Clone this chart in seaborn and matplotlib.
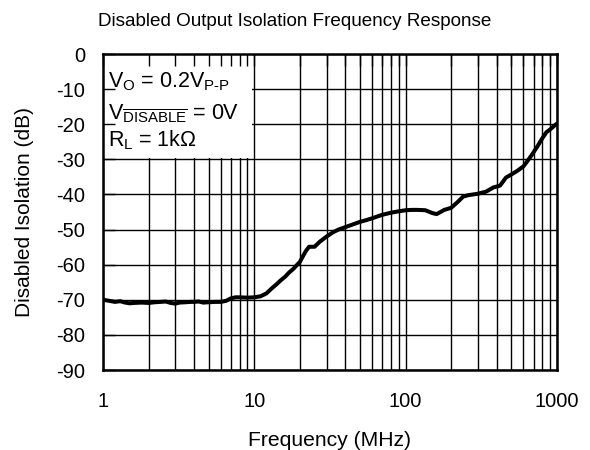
import numpy as np
import pandas as pd
import seaborn as sns
import matplotlib
matplotlib.use("Agg")
import matplotlib.pyplot as plt
from matplotlib.patches import Rectangle

freq_mhz = [1.0, 1.1, 1.2, 1.3, 1.4, 1.5, 1.6, 1.8, 2.0, 2.2, 2.4, 2.6, 2.8, 3.0,
            3.2, 3.5, 3.8, 4.0, 4.3, 4.6, 5.0, 5.5, 6.0, 6.5, 7.0, 7.5, 8.0, 9.0,
            10, 11, 12, 13, 14, 15, 16, 17, 18, 20, 21, 22, 23, 25, 27, 30, 33, 36,
            40, 45, 50, 55, 60, 70, 80, 90, 100, 110, 120, 135, 150, 160, 170, 180,
            200, 220, 240, 260, 300, 340, 380, 420, 460, 500, 550, 600, 650, 700,
            750, 800, 850, 900, 950, 1000]
isolation_db = [-70.0, -70.3, -70.6, -70.4, -70.8, -71.0, -70.9, -70.8, -70.9, -70.7,
                -70.6, -70.5, -70.9, -71.1, -70.8, -70.7, -70.6, -70.6, -70.5, -70.8,
                -70.7, -70.6, -70.6, -70.3, -69.6, -69.3, -69.3, -69.4, -69.3, -69.0,
                -68.2, -66.8, -65.6, -64.4, -63.4, -62.2, -61.3, -59.2, -57.5, -56.0,
                -54.9, -54.9, -53.5, -52.0, -50.8, -50.0, -49.3, -48.5, -47.8, -47.3,
                -46.8, -45.8, -45.2, -44.8, -44.5, -44.4, -44.4, -44.5, -45.3, -45.6,
                -45.0, -44.4, -43.8, -42.2, -40.6, -40.2, -39.8, -39.2, -38.0, -37.5,
                -35.2, -34.3, -33.2, -32.0, -30.0, -28.0, -26.0, -24.0, -22.3, -21.5,
                -20.6, -19.8]

x_ticks = [1, 10, 100, 1000]
x_tick_labels = ["1", "10", "100", "1000"]
y_ticks = list(range(-90, 1, 10))
y_tick_labels = [str(v) for v in y_ticks]
x_minor = [m * d for d in (1, 10, 100) for m in range(2, 10)]

title = "Disabled Output Isolation Frequency Response"
xlabel = "Frequency (MHz)"
ylabel = "Disabled Isolation (dB)"
notes = [r"$V_{\mathrm{O}}$ = 0.2$V_{\mathrm{P‐P}}$",
         r"$V_{\overline{\mathrm{DISABLE}}}$ = 0V",
         r"$R_{\mathrm{L}}$ = 1k$\Omega$"]

sns.set_theme(style="white")
plt.rcParams["font.family"] = ["Liberation Sans", "DejaVu Sans"]
plt.rcParams["mathtext.fontset"] = "custom"
plt.rcParams["mathtext.rm"] = "Liberation Sans"
plt.rcParams["mathtext.it"] = "Liberation Sans"
plt.rcParams["mathtext.bf"] = "Liberation Sans:bold"
plt.rcParams["text.color"] = "black"
plt.rcParams["axes.labelcolor"] = "black"

df = pd.DataFrame({"f": freq_mhz, "iso": isolation_db})

fig = plt.figure(figsize=(5.9, 4.5), dpi=100)
pos = [103 / 590, 1 - 370 / 450, 454 / 590, 316 / 450]
ax = fig.add_axes(pos)
ax.set_xscale("log")
sns.lineplot(data=df, x="f", y="iso", ax=ax, color="black", linewidth=2.9,
             zorder=3, estimator=None, sort=True)
ax.set_xlim(1, 1000)
ax.set_ylim(-90, 0)
ax.set_xticks(x_ticks)
ax.set_xticklabels(x_tick_labels)
ax.set_xticks(x_minor, minor=True)
ax.set_xticklabels([], minor=True)
ax.set_yticks(y_ticks)
ax.set_yticklabels(y_tick_labels)
ax.set_axisbelow(True)
ax.grid(True, which="both", color="black", linewidth=1.0)
ax.tick_params(axis="both", which="both", length=0, labelsize=14.5, colors="black")
ax.tick_params(axis="x", pad=16)
ax.tick_params(axis="y", pad=13)
for s in ax.spines.values():
    s.set_color("black")
    s.set_linewidth(1.8)
    s.set_zorder(5)
ax.set_xlabel(xlabel, fontsize=15.2, color="black")
ax.set_ylabel(ylabel, fontsize=15, color="black")
ax.xaxis.set_label_coords(0.5, -(441 - 370) / 316)
ax.xaxis.label.set_va("center")
ax.yaxis.set_label_coords((25 - 103) / 454, 0.5)
ax.yaxis.label.set_va("center")

# white note box over grid
ax.add_patch(Rectangle((0, 0.671), 0.328, 0.329, transform=ax.transAxes,
                       facecolor="white", edgecolor="none", zorder=1))
ys = [0.912, 0.81, 0.728]
for t, yy in zip(notes, ys):
    ax.text(0.012, yy, t, transform=ax.transAxes, fontsize=15.5, va="center",
            ha="left", zorder=4, color="black")

# overlay axes to draw inward tick stubs on top of the box
ax2 = fig.add_axes(pos, sharex=ax, sharey=ax)
ax2.patch.set_visible(False)
for s in ax2.spines.values():
    s.set_visible(False)
ax2.tick_params(axis="both", which="both", direction="in", length=8.5, width=1.0,
                colors="black", labelleft=False, labelbottom=False,
                left=True, top=True, bottom=False, right=False)
ax2.set_xlabel("")
ax2.set_ylabel("")

fig.text(0.5, 1 - 22 / 450, title, ha="center", va="center", fontsize=13.6,
         color="black")

fig.savefig("out.png", dpi=100)
